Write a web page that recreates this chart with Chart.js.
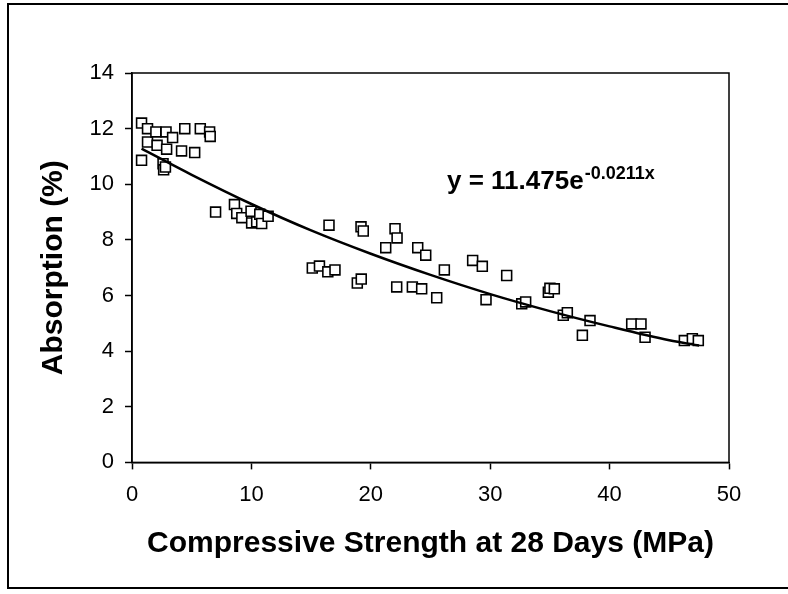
<!DOCTYPE html>
<html>
<head>
<meta charset="utf-8">
<title>Absorption vs Compressive Strength</title>
<script src="https://cdn.jsdelivr.net/npm/chart.js@4"></script>
<style>
  html, body { margin: 0; padding: 0; background: #fff; }
  #wrap { width: 788px; height: 594px; }
</style>
</head>
<body>
<div id="wrap"><canvas id="absChart" width="788" height="594"></canvas></div>
<script>
// measured points: compressive strength (MPa) and absorption (%)
const strength = [
  0.8, 1.3, 0.8, 1.3, 2.0, 2.1, 2.85, 3.4, 2.9, 2.6, 2.65, 2.8,
  4.42, 4.15, 5.72, 5.25, 6.5, 6.55, 7.0, 8.58, 8.77, 9.2, 9.97, 10.02,
  10.44, 10.7, 10.86, 11.4, 15.1, 15.7, 16.4, 17.0, 16.5, 19.18, 19.37, 18.87,
  19.2, 21.25, 22.03, 22.2, 22.17, 23.48, 23.93, 24.6, 24.26, 25.52, 26.16, 28.53,
  29.34, 29.65, 31.38, 32.64, 32.97, 34.87, 35.0, 35.37, 36.12, 36.46, 37.72, 38.36,
  41.85, 42.63, 42.97, 46.26, 46.93, 47.43
];
const absorption = [
  12.2, 12.0, 10.86, 11.52, 11.88, 11.4, 11.88, 11.68, 11.26, 10.74, 10.52, 10.62,
  12.0, 11.2, 12.0, 11.14, 11.88, 11.72, 9.0, 9.27, 8.95, 8.8, 9.03, 8.61,
  8.65, 8.92, 8.59, 8.85, 6.99, 7.06, 6.85, 6.92, 8.53, 8.47, 8.32, 6.45,
  6.59, 7.72, 8.4, 8.07, 6.31, 6.31, 7.72, 7.45, 6.24, 5.92, 6.92, 7.26,
  7.05, 5.85, 6.72, 5.7, 5.77, 6.12, 6.26, 6.24, 5.29, 5.38, 4.57, 5.1,
  4.98, 4.98, 4.5, 4.38, 4.45, 4.38
];

// trend line
const trendX = [0.8, 5, 10, 15, 20, 25, 30, 35, 40, 45, 47.5];
const trendY = [11.28, 10.34, 9.29, 8.34, 7.50, 6.74, 6.05, 5.44, 4.89, 4.39, 4.20];

const xTicks = [0, 10, 20, 30, 40, 50];
const yTicks = [0, 2, 4, 6, 8, 10, 12, 14];

const eqMain = 'y = 11.475e';
const eqPower = '-0.0211x';

const FONT = "'Liberation Sans', Arial, sans-serif";

const points = strength.map((x, i) => ({ x: x, y: absorption[i] }));
const trend = trendX.map((x, i) => ({ x: x, y: trendY[i] }));

// white page, outer frame, plot box and the equation
const framePlugin = {
  id: 'frame',
  beforeDraw(chart) {
    const c = chart.ctx;
    c.save();
    c.fillStyle = '#fff';
    c.fillRect(0, 0, chart.width, chart.height);
    c.strokeStyle = '#000';
    c.lineWidth = 2;
    c.strokeRect(8, 4, 800, 584);
    c.restore();
  },
  afterDraw(chart) {
    const c = chart.ctx;
    const a = chart.chartArea;
    c.save();
    c.strokeStyle = '#000';
    c.lineWidth = 1.5;
    c.strokeRect(a.left, a.top, a.right - a.left, a.bottom - a.top);

    c.fillStyle = '#000';
    c.textBaseline = 'alphabetic';
    c.font = 'bold 26px ' + FONT;
    c.fillText(eqMain, 447, 189);
    const w = c.measureText(eqMain).width;
    c.font = 'bold 18px ' + FONT;
    c.fillText(eqPower, 447 + w + 1, 179);
    c.restore();
  }
};

const ctx = document.getElementById('absChart').getContext('2d');
const absChart = new Chart(ctx, {
  type: 'scatter',
  data: {
    datasets: [{
      label: 'Trend',
      data: trend,
      showLine: true,
      borderColor: '#000',
      borderWidth: 2.5,
      pointRadius: 0,
      cubicInterpolationMode: 'monotone',
      fill: false
    }, {
      label: 'Data',
      data: points,
      pointStyle: 'rect',
      pointRadius: 7,
      pointBackgroundColor: '#fff',
      pointBorderColor: '#000',
      pointBorderWidth: 1.6
    }]
  },
  options: {
    responsive: false,
    animation: false,
    layout: { padding: { top: 73, right: 59, bottom: 10, left: 8 } },
    plugins: {
      legend: { display: false },
      tooltip: { enabled: false }
    },
    scales: {
      x: {
        type: 'linear',
        min: 0,
        max: 50,
        afterFit(scale) { scale.height = 121.6; },
        afterBuildTicks(scale) { scale.ticks = xTicks.map(v => ({ value: v })); },
        grid: { drawOnChartArea: false, drawTicks: true, tickLength: 7, tickColor: '#000', tickWidth: 1.5 },
        border: { color: '#000', width: 1.5 },
        ticks: { color: '#000', padding: 12, font: { family: FONT, size: 22 } },
        title: {
          display: true,
          text: 'Compressive Strength at 28 Days (MPa)',
          color: '#000',
          font: { family: FONT, size: 30, weight: 'bold' },
          padding: { top: 0, bottom: 22 }
        }
      },
      y: {
        type: 'linear',
        min: 0,
        max: 14,
        afterFit(scale) { scale.width = 124; },
        afterBuildTicks(scale) { scale.ticks = yTicks.map(v => ({ value: v })); },
        grid: { drawOnChartArea: false, drawTicks: true, tickLength: 7, tickColor: '#000', tickWidth: 1.5 },
        border: { color: '#000', width: 1.5 },
        ticks: { color: '#000', padding: 11, font: { family: FONT, size: 22 } },
        title: {
          display: true,
          text: 'Absorption (%)',
          color: '#000',
          font: { family: FONT, size: 30, weight: 'bold' },
          padding: { top: 28, bottom: 0 }
        }
      }
    }
  },
  plugins: [framePlugin]
});
</script>
</body>
</html>
